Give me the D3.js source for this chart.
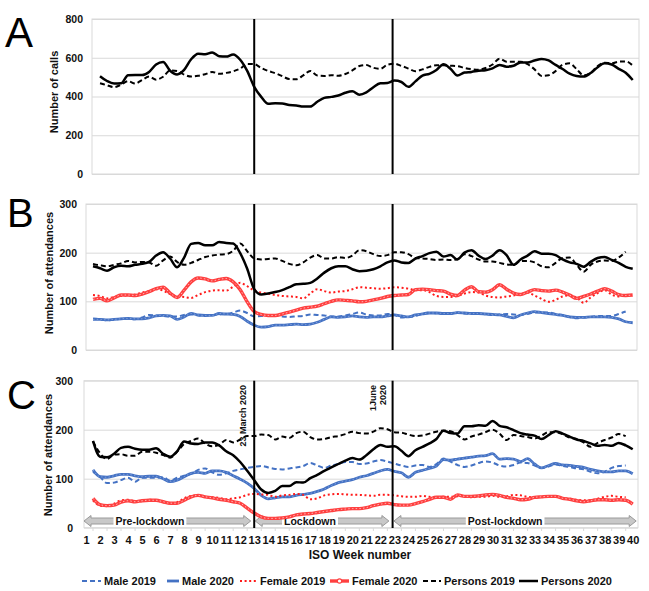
<!DOCTYPE html>
<html><head><meta charset="utf-8">
<script src="https://cdn.jsdelivr.net/npm/d3@7/dist/d3.min.js"></script>
<style>
body{margin:0;background:#fff}
svg{display:block;font-family:"Liberation Sans",Arial,Helvetica,sans-serif}
</style>
</head><body>
<svg id="chart" width="649" height="591"></svg>
<script>
// ---------------- DATA ----------------
const weekTicks = [1,2,3,4,5,6,7,8,9,10,11,12,13,14,15,16,17,18,19,20,21,22,23,24,25,26,27,28,29,30,31,32,33,34,35,36,37,38,39,40];
const yTicksA = [0,200,400,600,800];
const yTicksBC = [0,100,200,300];

const weeksA = [2,2.5,3,3.5,4,4.5,5,5.5,6,6.5,7,7.5,8,8.5,9,9.5,10,10.5,11,11.5,12,12.5,13,13.5,14,14.5,15,15.5,16,16.5,17,17.5,18,18.5,19,19.5,20,20.5,21,21.5,22,22.5,23,23.5,24,24.5,25,25.5,26,26.5,27,27.5,28,28.5,29,29.5,30,30.5,31,31.5,32,32.5,33,33.5,34,34.5,35,35.5,36,36.5,37,37.5,38,38.5,39,39.5,40];
const weeksBC = [1.5,2,2.5,3,3.5,4,4.5,5,5.5,6,6.5,7,7.5,8,8.5,9,9.5,10,10.5,11,11.5,12,12.5,13,13.5,14,14.5,15,15.5,16,16.5,17,17.5,18,18.5,19,19.5,20,20.5,21,21.5,22,22.5,23,23.5,24,24.5,25,25.5,26,26.5,27,27.5,28,28.5,29,29.5,30,30.5,31,31.5,32,32.5,33,33.5,34,34.5,35,35.5,36,36.5,37,37.5,38,38.5,39,39.5,40];

// Panel A: number of calls
const callsPersons2019 = [468,458, 448,461, 479,467, 485,503, 487,502, 535,531, 513,503, 507,515, 527,517, 522,530, 544,568, 567,547, 532,520, 505,490, 489,509, 532,508, 506,510, 507,516, 535,557, 562,548, 543,564, 569,558, 544,530, 540,553, 561,561, 559,557, 547,541, 538,547, 565,595, 580,580, 580,567, 540,506, 510,531, 564,571, 541,509, 522,557, 574,571, 580,581, 560];
const callsPersons2020 = [505,480, 467,468, 510,511, 511,527, 565,578, 533,514, 537,592, 621,618, 627,608, 606,617, 590,532, 450,398, 362,365, 364,356, 354,348, 348,373, 393,398, 405,419, 427,409, 421,448, 468,470, 482,475, 450,478, 508,517, 537,566, 543,508, 524,527, 533,536, 545,563, 554,559, 576,575, 586,594, 586,563, 542,518, 506,503, 521,551, 571,565, 543,523, 485];

// Panel B: attendances
const bMale2019 = [65, 63,61, 62,64, 64,63, 67,72, 71,70, 69,69, 72,73, 71,70, 72,73, 74,77, 81,76, 69,70, 70,72, 69,68, 69,70, 73,72, 71,69, 69,71, 74,77, 73,71, 71,74, 72,67, 68,70, 75,77, 75,74, 75,77, 75,74, 75,74, 72,73, 74,73, 72,74, 77,77, 77,74, 72,68, 65,67, 68,70, 70,70, 74,79, null];
const bMale2020 = [63, 63,62, 63,64, 65,64, 64,66, 70,71, 70,63, 68,75, 72,71, 71,75, 74,73, 69,59, 51,47, 48,51, 51,52, 53,52, 53,57, 63,68, 67,68, 70,68, 67,68, 68,70, 72,70, 68,72, 74,76, 76,75, 75,77, 76,75, 75,74, 73,72, 69,66, 72,76, 79,77, 75,73, 71,68, 67,67, 68,68, 68,67, 64,58, 56];
const bFemale2019 = [113, 111,106, 109,111, 112,114, 118,121, 125,122, 115,110, 109,107, 113,119, 122,123, 122,130, 138,131, 122,118, 116,113, 111,110, 109,106, 116,125, 121,118, 120,121, 125,129, 128,127, 126,127, 129,128, 126,123, 123,119, 111,109, 109,111, 116,119, 118,112, 109,108, 110,112, 115,118, 112,105, 99,103, 110,112, 108,97, 108,117, 123,114, 110,115, null];
const bFemale2020 = [104, 106,101, 107,113, 113,112, 115,120, 126,129, 117,108, 123,140, 148,146, 142,145, 147,140, 124,99, 79,73, 71,71, 74,78, 82,86, 88,90, 95,100, 103,102, 101,99, 100,103, 106,110, 112,113, 114,124, 125,124, 122,121, 115,112, 123,130, 120,119, 124,134, 125,117, 114,119, 124,122, 121,123, 119,113, 106,110, 115,121, 126,121, 114,112, 113];
const bPersons2019 = [177, 174,172, 175,178, 183,180, 181,180, 173,184, 192,181, 175,179, 185,191, 194,196, 197,204, 219,203, 188,186, 187,188, 183,177, 174,180, 190,195, 188,188, 191,189, 194,205, 203,197, 193,195, 201,201, 197,189, 188,187, 185,186, 185,187, 197,193, 186,182, 182,179, 176,175, 183,183, 180,172, 170,179, 189,190, 175,161, 175,182, 184,183, 190,202, null];
const bPersons2020 = [172, 168,163, 170,173, 172,175, 177,181, 194,201, 188,170, 190,218, 220,215, 215,222, 220,219, 199,167, 125,114, 116,119, 123,129, 135,136, 138,147, 159,168, 172,172, 166,162, 163,166, 172,180, 184,180, 179,188, 193,199, 202,192, 195,186, 200,205, 194,187, 194,205, 195,175, 186,194, 203,198, 198,195, 186,180, 177,171, 181,189, 191,185, 179,171, 167];

// Panel C: attendances
const cMale2019 = [114, 104,91, 92,97, 102,94, 102,102, 102,103, 96,102, 106,110, 118,121, 113,108, 111,116, 119,122, 124,126, 123,120, 119,121, 123,126, 132,127, 122,127, 130,134, 134,130, 131,135, 138,135, 131,127, 124,127, 128,124, 130,141, 135,128, 124,127, 132,135, 133,127, 125,128, 133,132, 127,122, 125,129, 126,124, 121,119, 114,111, 114,122, 126,127, null];
const cMale2020 = [118, 104,103, 106,109, 109,106, 104,105, 105,100, 94,97, 104,111, 113,111, 116,116, 113,106, 99,91, 80,66, 59,61, 63,63, 66,68, 70,74, 79,86, 92,95, 98,103, 106,111, 116,119, 115,112, 103,113, 117,121, 126,139, 138,140, 142,144, 146,147, 151,140, 141,140, 135,141, 130,122, 127,131, 128,127, 125,123, 119,116, 114,114, 116,116, 110];
const cFemale2019 = [56, 45,44, 49,56, 57,54, 55,57, 56,52, 50,52, 60,65, 66,62, 62,61, 58,60, 62,67, 69,68, 67,63, 66,67, 69,67, 58,60, 66,68, 69,68, 67,67, 66,65, 67,67, 66,64, 63,63, 65,63, 62,63, 63,64, 65,62, 63,63, 65,63, 64,67, 66,63, 62,63, 64,64, 60,59, 57,56, 56,59, 63,65, 63,62, null];
const cFemale2020 = [60, 47,45, 46,52, 55,53, 55,56, 56,53, 50,50, 56,63, 66,63, 61,58, 56,53, 50,40, 30,22, 19,19, 20,22, 26,28, 29,31, 33,35, 37,38, 39,39, 41,45, 48,50, 47,46, 46,49, 53,58, 62,62, 58,67, 64,64, 65,67, 68,66, 62,60, 57,58, 62,63, 64,64, 60,58, 55,53, 55,57, 57,56, 57,56, 48];
const cPersons2019 = [176, 152,140, 149,150, 147,147, 155,155, 153,148, 143,155, 171,177, 182,172, 166,169, 179,174, 180,187, 187,190, 189,180, 186,183, 193,196, 185,180, 181,185, 187,191, 196,193, 192,196, 203,201, 195,194, 190,187, 188,192, 196,198, 197,189, 180,186, 190,195, 200,192, 179,189, 187,185, 182,188, 195,195, 191,184, 181,174, 165,173, 179,184, 191,187, null];
const cPersons2020 = [177, 145,144, 151,163, 165,161, 159,159, 162,151, 145,156, 176,172, 171,174, 174,168, 156,148, 134,116, 97,78, 71,75, 85,85, 93,92, 101,108, 116,123, 130,137, 142,139, 148,160, 169,165, 166,157, 146,158, 165,172, 181,198, 193,192, 207,207, 209,208, 218,208, 205,199, 193,190, 188,181, 189,197, 192,186, 180,177, 172,167, 169,167, 173,168, 160];

const seriesNames = ["Male 2019","Male 2020","Female 2019","Female 2020","Persons 2019","Persons 2020"];
const lockdownWeeks = [13, 23];
const phases = ["Pre-lockdown","Lockdown","Post-lockdown"];
const phaseBounds = [[1,13],[13,23],[23,40]];

// ---------------- STYLES / LAYOUT ----------------
const styles = {
  "Male 2019":   {stroke:"#4472c4", width:2,   dash:"5,3"},
  "Male 2020":   {stroke:"#4472c4", width:2.8, overlay:"#86a2da"},
  "Female 2019": {stroke:"#ff1a1a", width:2,   dash:"2,2.6"},
  "Female 2020": {stroke:"#ff4040", width:3.4, overlay:"#ffc0c0"},
  "Persons 2019":{stroke:"#000000", width:2,   dash:"5,3"},
  "Persons 2020":{stroke:"#000000", width:2.5}
};
const FONT_COLOR = "#111";
const svg = d3.select("#chart");
const x = d3.scaleLinear().domain([1,40]).range([86,632.7]);

function drawPanel(cfg){
  const g = svg.append("g");
  const y = d3.scaleLinear().domain([0, cfg.yMax]).range([cfg.bottom, cfg.top]);
  const ax = d3.axisLeft(y).tickValues(cfg.yTicks)
      .tickSizeInner(-(cfg.right-cfg.left)).tickSizeOuter(0)
      .tickPadding(cfg.left-cfg.tickRight)
      .tickFormat(d3.format("d"));
  const ag = g.append("g").attr("transform",`translate(${cfg.left},0)`).call(ax);
  ag.select(".domain").remove();
  ag.selectAll(".tick line").attr("stroke","#d9d9d9").attr("stroke-width",1);
  ag.selectAll(".tick text").attr("fill",FONT_COLOR).attr("font-size",10.5).attr("font-weight","bold")
     .attr("font-family",'"Liberation Sans",Arial,sans-serif');
  g.append("rect").attr("x",cfg.left).attr("y",cfg.top).attr("width",cfg.right-cfg.left)
    .attr("height",cfg.bottom-cfg.top).attr("fill","none").attr("stroke","#d9d9d9").attr("stroke-width",1);
  g.append("text").attr("transform",`translate(${cfg.titleX},${cfg.titleY}) rotate(-90)`)
    .attr("text-anchor","middle").attr("font-size",11).attr("font-weight","bold").attr("fill",FONT_COLOR)
    .text(cfg.title);
  g.append("text").attr("x",cfg.letterX).attr("y",cfg.letterY).attr("font-size",cfg.letterSize)
    .attr("fill","#000").text(cfg.letter);
  return {g,y};
}

function drawSeries(g, y, weeks, list){
  list.forEach(([name, values])=>{
    const st = styles[name];
    const pts = weeks.map((w,i)=>[w, values[i]]);
    const line = d3.line().defined(d=>d[1]!==null).x(d=>x(d[0])).y(d=>y(d[1])).curve(d3.curveMonotoneX);
    g.append("path").attr("d",line(pts)).attr("fill","none").attr("stroke",st.stroke)
      .attr("stroke-width",st.width).attr("stroke-dasharray",st.dash||null)
      .attr("stroke-linejoin","round");
    if(st.overlay){
      g.append("path").attr("d",line(pts)).attr("fill","none").attr("stroke",st.overlay)
        .attr("stroke-width",1).attr("stroke-dasharray","1.5,2.2").attr("opacity",0.9);
    }
  });
}

function drawLockdownLines(g, top, bottom){
  lockdownWeeks.forEach(w=>{
    const xx = x(w)-(w===23?1.8:0);
    g.append("line").attr("x1",xx).attr("x2",xx)
      .attr("y1",top).attr("y2",bottom).attr("stroke","#000").attr("stroke-width",2);
  });
}

// ---- Panel A ----
const A = drawPanel({left:92,right:639,top:19,bottom:174,yMax:800,yTicks:yTicksA,tickRight:83,
  title:"Number of calls",titleX:58,titleY:92,letter:"A",letterX:5,letterY:47,letterSize:42});
drawSeries(A.g, A.y, weeksA, [["Persons 2019",callsPersons2019],["Persons 2020",callsPersons2020]]);
drawLockdownLines(A.g, 19, 174);

// ---- Panel B ----
const B = drawPanel({left:86,right:637,top:204,bottom:350,yMax:300,yTicks:yTicksBC,tickRight:77,
  title:"Number of attendances",titleX:53,titleY:273,letter:"B",letterX:7,letterY:227,letterSize:40});
drawSeries(B.g, B.y, weeksBC, [["Male 2019",bMale2019],["Male 2020",bMale2020],["Female 2019",bFemale2019],
  ["Female 2020",bFemale2020],["Persons 2019",bPersons2019],["Persons 2020",bPersons2020]]);
drawLockdownLines(B.g, 204, 350);

// ---- Panel C ----
const C = drawPanel({left:84,right:638,top:380.7,bottom:527.7,yMax:300,yTicks:yTicksBC,tickRight:73,
  title:"Number of attendances",titleX:52,titleY:455,letter:"C",letterX:7,letterY:409,letterSize:40});

// phase arrows (under the data lines)
const arrowY = 521, shaftH = 3, headH = 5.5, headL = 7;
const arrowInset = [[-2,-3.5],[1,-5.5],[-0.5,3.5]];
const labelWeek = [5.56, 16.98, 30.9];
phases.forEach((label,i)=>{
  const x0 = x(phaseBounds[i][0]) + arrowInset[i][0];
  const x1 = x(phaseBounds[i][1]) + arrowInset[i][1];
  const p = [[x0,arrowY],[x0+headL,arrowY-headH],[x0+headL,arrowY-shaftH],[x1-headL,arrowY-shaftH],
             [x1-headL,arrowY-headH],[x1,arrowY],[x1-headL,arrowY+headH],[x1-headL,arrowY+shaftH],
             [x0+headL,arrowY+shaftH],[x0+headL,arrowY+headH]];
  C.g.append("path").attr("d","M"+p.map(d=>d.join(",")).join("L")+"Z")
    .attr("fill","#c8c8c8").attr("stroke","#9a9a9a").attr("stroke-width",1);
  const t = C.g.append("text").attr("x",x(labelWeek[i])).attr("y",arrowY+3.8).attr("text-anchor","middle")
    .attr("font-size",10.5).attr("font-weight","bold").attr("fill",FONT_COLOR).text(label);
  const bb = t.node().getBBox();
  C.g.insert("rect", function(){return t.node();}).attr("x",bb.x-2).attr("y",arrowY-6).attr("width",bb.width+4)
    .attr("height",12).attr("fill","#fff");
});

drawSeries(C.g, C.y, weeksBC, [["Male 2019",cMale2019],["Male 2020",cMale2020],["Female 2019",cFemale2019],
  ["Female 2020",cFemale2020],["Persons 2019",cPersons2019],["Persons 2020",cPersons2020]]);
drawLockdownLines(C.g, 380.7, 528);

// annotations
C.g.append("text").attr("transform",`translate(${x(13)-8},385) rotate(-90)`).attr("text-anchor","end")
  .attr("font-size",9).attr("font-weight","bold").attr("fill",FONT_COLOR).text("23 March 2020");
C.g.append("text").attr("transform",`translate(${x(23)-18.5},385) rotate(-90)`).attr("text-anchor","end")
  .attr("font-size",9).attr("font-weight","bold").attr("fill",FONT_COLOR).text("1June");
C.g.append("text").attr("transform",`translate(${x(23)-8.5},385) rotate(-90)`).attr("text-anchor","end")
  .attr("font-size",9).attr("font-weight","bold").attr("fill",FONT_COLOR).text("2020");

// x axis
const xa = d3.axisBottom(x).tickValues(weekTicks).tickSize(0).tickPadding(9).tickFormat(d3.format("d"));
const xg = C.g.append("g").attr("transform","translate(0,527.7)").call(xa);
xg.select(".domain").remove();
xg.selectAll(".tick text").attr("fill",FONT_COLOR).attr("font-size",11).attr("font-weight","bold")
  .attr("font-family",'"Liberation Sans",Arial,sans-serif');
C.g.selectAll(".minor").data(weekTicks.slice(0,-1)).enter().append("line")
  .attr("x1",d=>x(d+0.5)).attr("x2",d=>x(d+0.5)).attr("y1",528).attr("y2",531)
  .attr("stroke","#d9d9d9");
svg.append("text").attr("x",360).attr("y",559).attr("text-anchor","middle").attr("font-size",12)
  .attr("font-weight","bold").attr("fill",FONT_COLOR).text("ISO Week number");

// legend
const legLineX = [82,167,240,330,423,519];
const legTextX = [104,182,260,352,444,541];
const legY = 581;
const lg = svg.append("g");
seriesNames.forEach((name,i)=>{
  const st = styles[name];
  const len = legTextX[i]-legLineX[i]-3;
  lg.append("line").attr("x1",legLineX[i]).attr("x2",legLineX[i]+len).attr("y1",legY).attr("y2",legY)
    .attr("stroke",st.stroke).attr("stroke-width",st.width).attr("stroke-dasharray",st.dash||null);
  if(name==="Female 2020"){
    lg.append("circle").attr("cx",legLineX[i]+len/2).attr("cy",legY).attr("r",2.2)
      .attr("fill","#fff").attr("stroke",st.stroke).attr("stroke-width",1.2);
  }
  lg.append("text").attr("x",legTextX[i]).attr("y",legY+4).attr("font-size",11).attr("font-weight","bold")
    .attr("fill",FONT_COLOR).text(name);
});
</script>
</body></html>
